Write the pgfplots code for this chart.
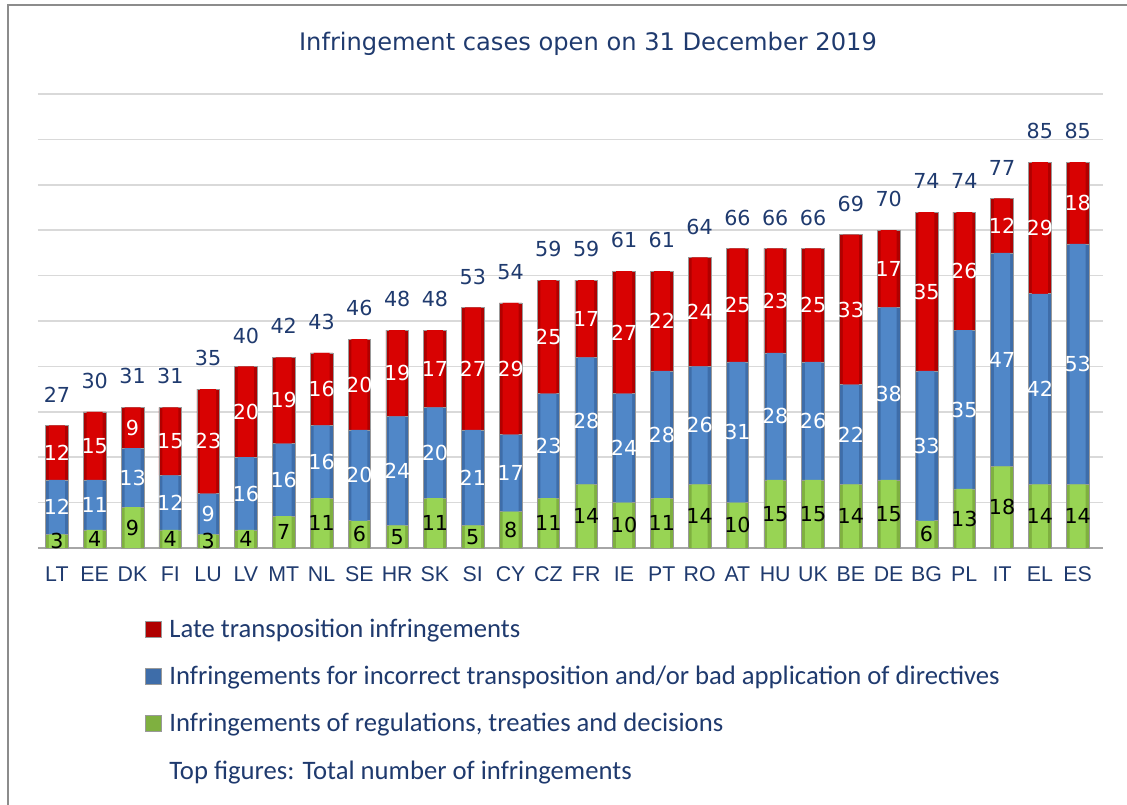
\documentclass[border=0pt]{standalone}
\usepackage{pgfplots}
\pgfplotsset{compat=1.18}
\usepackage{pgfplotstable}
\usepackage{fontspec}
\setmainfont{DejaVu Sans}
\newfontfamily\legfont{Carlito}
\newfontfamily\tickfont{Liberation Sans}
\definecolor{navy}{HTML}{1F3A6E}
\definecolor{redE}{HTML}{B00000}
\definecolor{redM}{HTML}{D80202}
\definecolor{bluE}{HTML}{3E6DA9}
\definecolor{bluM}{HTML}{5087C8}
\definecolor{grnE}{HTML}{7FB040}
\definecolor{grnM}{HTML}{98D454}
\definecolor{gridc}{HTML}{D9D9D9}
\definecolor{axisc}{HTML}{A6A6A6}
\definecolor{framec}{HTML}{8C8C8C}
\newcommand\lab{\fontsize{15.5}{18}\selectfont}

% x, country, regulations (green), incorrect transposition (blue), late (red), total
\pgfplotstableread{
x c g b r t
0 LT 3 12 12 27
1 EE 4 11 15 30
2 DK 9 13 9 31
3 FI 4 12 15 31
4 LU 3 9 23 35
5 LV 4 16 20 40
6 MT 7 16 19 42
7 NL 11 16 16 43
8 SE 6 20 20 46
9 HR 5 24 19 48
10 SK 11 20 17 48
11 SI 5 21 27 53
12 CY 8 17 29 54
13 CZ 11 23 25 59
14 FR 14 28 17 59
15 IE 10 24 27 61
16 PT 11 28 22 61
17 RO 14 26 24 64
18 AT 10 31 25 66
19 HU 15 28 23 66
20 UK 15 26 25 66
21 BE 14 22 33 69
22 DE 15 38 17 70
23 BG 6 33 35 74
24 PL 13 35 26 74
25 IT 18 47 12 77
26 EL 14 42 29 85
27 ES 14 53 18 85
}\data

\pgfplotsset{
  base/.style={scale only axis, width=798.75pt, height=340.5pt,
    at={(28.5pt,-411pt)}, anchor=south west,
    xmin=-0.5, xmax=27.67, ymin=0, ymax=100},
}

\begin{document}
\begin{tikzpicture}
\path[use as bounding box] (0,0) rectangle (845.25pt,-603.75pt);
\draw[framec, line width=1.5pt] (6pt,-610pt) -- (6pt,-3.75pt) -- (850pt,-3.75pt);
\node[font=\fontsize{18.1}{21}\selectfont, text=navy] at (441pt,-33pt) {Infringement cases open on 31 December 2019};

% outer bars, grid, ticks and legend
\begin{axis}[base, ybar stacked, bar width=17pt,
  axis lines*=left, y axis line style={draw=none},
  x axis line style={axisc, line width=1.5pt, -},
  ymajorgrids, ytick={0,10,...,100}, yticklabels={},
  grid style={gridc, line width=1.2pt},
  major tick length=0pt,
  xtick={0,...,27}, xticklabels from table={\data}{c},
  xticklabel style={font=\tickfont\fontsize{16}{19}\selectfont, text=navy, yshift=-10.5pt},
  reverse legend,
  legend cell align=left,
  legend image code/.code={\draw[#1] (0pt,-6pt) rectangle (12pt,6pt);},
  legend style={at={(0.1,-0.15)}, anchor=north west, draw=none, fill=none,
    inner sep=0pt, row sep=16pt, column sep=4pt,
    font=\legfont\fontsize{20}{24}\selectfont, text=navy},
]
\addlegendimage{empty legend}
\addlegendentry{Top figures: Total number of infringements}
\addplot[draw=black!40, line width=0.4pt, fill=grnE] table[x=x, y=g] {\data};
\addlegendentry{Infringements of regulations, treaties and decisions}
\addplot[draw=black!40, line width=0.4pt, fill=bluE] table[x=x, y=b] {\data};
\addlegendentry{Infringements for incorrect transposition and/or bad application of directives}
\addplot[draw=black!40, line width=0.4pt, fill=redE] table[x=x, y=r] {\data};
\addlegendentry{Late transposition infringements}
\end{axis}

% lighter centre of each bar
\begin{axis}[base, hide axis, ybar stacked, bar width=12pt]
\addplot[draw=none, fill=grnM] table[x=x, y=g] {\data};
\addplot[draw=none, fill=bluM] table[x=x, y=b] {\data};
\addplot[draw=none, fill=redM] table[x=x, y=r] {\data};
\end{axis}

% value labels
\begin{axis}[base, hide axis, nodes near coords, point meta=explicit,
  /pgf/number format/assume math mode=true,
  every node near coord/.append style={anchor=center, font=\lab, inner sep=0pt}]
\addplot[draw=none, mark=none, every node near coord/.append style={text=black}]
  table[x=x, y expr=\thisrow{g}/2, meta=g] {\data};
\addplot[draw=none, mark=none, every node near coord/.append style={text=white}]
  table[x=x, y expr=\thisrow{g}+\thisrow{b}/2, meta=b] {\data};
\addplot[draw=none, mark=none, every node near coord/.append style={text=white}]
  table[x=x, y expr=\thisrow{g}+\thisrow{b}+\thisrow{r}/2, meta=r] {\data};
\addplot[draw=none, mark=none, every node near coord/.append style={text=navy, anchor=base, yshift=17.5pt}]
  table[x=x, y=t, meta=t] {\data};
\end{axis}
\end{tikzpicture}
\end{document}
